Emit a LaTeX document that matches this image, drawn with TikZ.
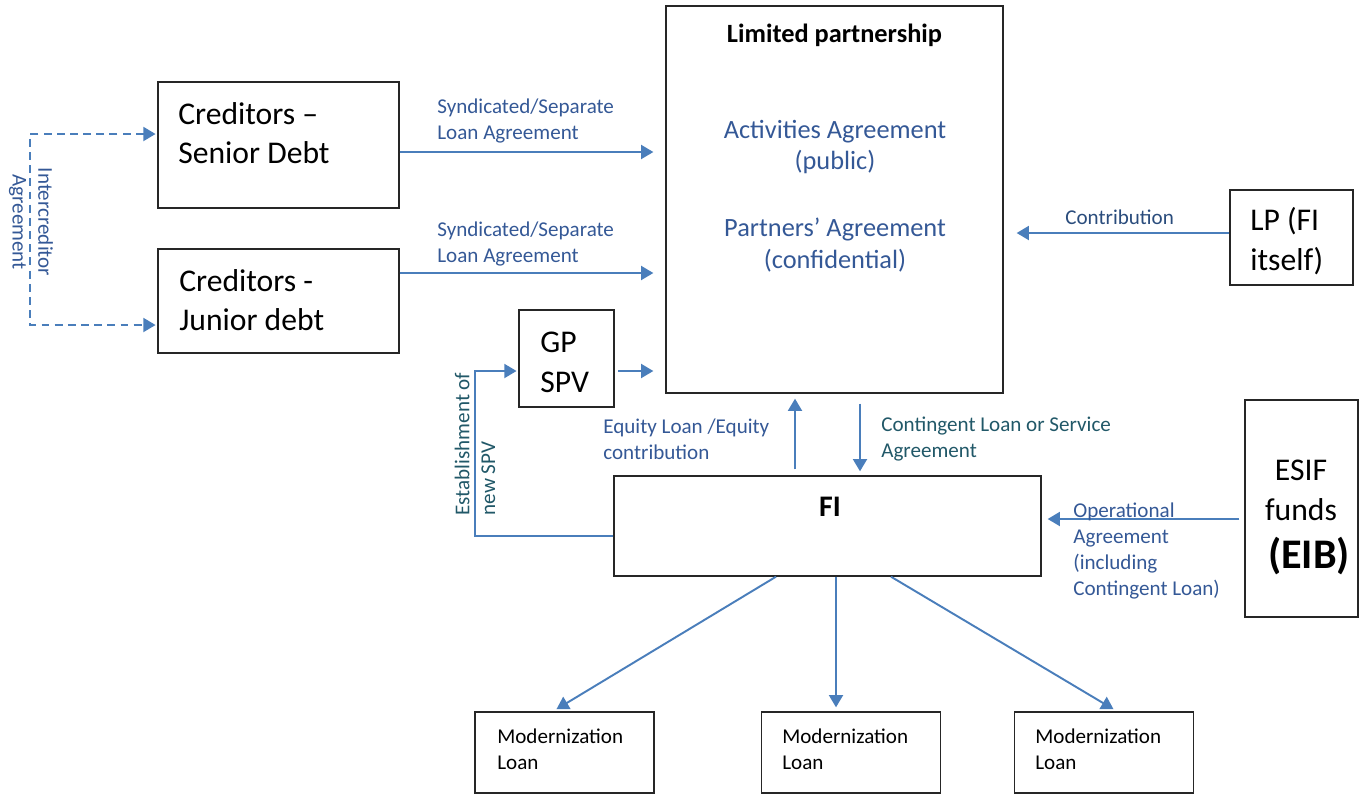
\documentclass[tikz,border=0pt]{standalone}
\usepackage{fontspec}
\setmainfont{Carlito}
\usepackage{tikz}
\usetikzlibrary{arrows.meta,calc,positioning}
\definecolor{flowblue}{RGB}{74,126,187}
\definecolor{lblblue}{RGB}{52,88,150}
\definecolor{lbldark}{RGB}{42,76,124}
\definecolor{lblteal}{RGB}{33,88,104}

\begin{document}
\begin{tikzpicture}[x=0.02cm,y=-0.02cm,
  box/.style={draw=black!85,line width=0.8pt,inner sep=0pt},
  flow/.style={draw=flowblue,line width=1.1pt,-{Triangle[length=7pt,width=8pt]}},
  dflow/.style={draw=flowblue,line width=1.1pt,dash pattern=on 4.5pt off 3pt,
    {Triangle[length=7pt,width=8pt]}-{Triangle[length=7pt,width=8pt]}},
  lbl/.style={inner sep=0pt,align=left,text=lblblue,font=\fontsize{12}{14.7}\selectfont},
  big/.style={inner sep=0pt,align=left,font=\fontsize{18}{22.6}\selectfont},
  mid/.style={inner sep=0pt,align=center,text=lblblue,font=\fontsize{15}{18.2}\selectfont}]
\useasboundingbox (0,0) rectangle (1359,795);

% boxes
\node[box,minimum width=4.82cm,minimum height=2.52cm] (senior) at (278.5,145) {};
\node[box,minimum width=4.82cm,minimum height=2.08cm] (junior) at (278.5,301) {};
\node[box,minimum width=1.9cm,minimum height=1.94cm] (gp) at (566.5,358.5) {};
\node[box,minimum width=6.74cm,minimum height=7.74cm] (lp) at (834.5,199.5) {};
\node[box,minimum width=2.46cm,minimum height=1.9cm] (lpfi) at (1291.5,237.5) {};
\node[box,minimum width=2.26cm,minimum height=4.34cm] (esif) at (1301.5,508.5) {};
\node[box,minimum width=8.54cm,minimum height=2cm] (fi) at (827.5,526) {};
\node[box,minimum width=3.58cm,minimum height=1.62cm] (ml1) at (564.5,752.5) {};
\node[box,minimum width=3.58cm,minimum height=1.62cm] (ml2) at (851,752.5) {};
\node[box,minimum width=3.58cm,minimum height=1.62cm] (ml3) at (1104,752.5) {};

% box texts
\node[big,anchor=west] (seniortxt) at (178,133) {Creditors --\\Senior Debt};
\node[big,anchor=west] (juniortxt) at (179,300) {Creditors -\\Junior debt};
\node[big,anchor=west] (gptxt) at (540,362) {GP\\SPV};
\node[big,anchor=west] (lpfitxt) at (1250,241) {LP (FI\\itself)};
\node[big,align=center] (esiftxt) at (1301,490) {ESIF\\funds};
\node[inner sep=0pt,font=\fontsize{24}{28}\bfseries] (eibtxt) at (1309,556) {(EIB)};
\node[inner sep=0pt,font=\fontsize{15}{18}\bfseries] (lptitle) at (834.5,35) {Limited partnership};
\node[mid] (activ) at (835,147) {Activities Agreement\\(public)};
\node[mid] (partn) at (835,245) {Partners’ Agreement\\(confidential)};
\node[inner sep=0pt,font=\fontsize{17}{20}\bfseries] (fitxt) at (830,507) {FI};
\node[lbl,text=black,anchor=west] (ml1txt) at (497,749) {Modernization\\Loan};
\node[lbl,text=black,anchor=west] (ml2txt) at (782,749) {Modernization\\Loan};
\node[lbl,text=black,anchor=west] (ml3txt) at (1035,749) {Modernization\\Loan};

% connectors
\draw[flow,shorten >=0.24cm] (senior.east |- 0,152) -- (lp.west |- 0,152);
\draw[flow,shorten >=0.24cm] (junior.east |- 0,273) -- (lp.west |- 0,273);
\draw[flow,shorten <=2pt,shorten >=0.24cm] (gp.east |- 0,371) -- (lp.west |- 0,371);
\draw[dflow,shorten <=1pt,shorten >=1pt] (senior.west |- 0,134) -- (30,134) -- (30,325) -- (junior.west |- 0,325);
\draw[flow,shorten >=1pt] (fi.west |- 0,536) -- (475,536) -- (475,371) -- (gp.west |- 0,371);
\draw[flow,shorten <=0.12cm,shorten >=0.1cm] (fi.north -| 795,0) -- (lp.south -| 795,0);
\draw[flow,shorten <=0.2cm,shorten >=0.08cm] (lp.south -| 860,0) -- (fi.north -| 860,0);
\draw[flow,shorten >=0.26cm] (lpfi.west |- 0,233) -- (lp.east |- 0,233);
\draw[flow,shorten <=0.1cm,shorten >=0.12cm] (esif.west |- 0,519) -- (fi.east |- 0,519);
\draw[flow,shorten >=0.08cm] (fi.south -| 776,0) -- (ml1.north -| 553,0);
\draw[flow,shorten >=0.08cm] (fi.south -| 836,0) -- (ml2.north -| 836,0);
\draw[flow,shorten >=0.08cm] (fi.south -| 891,0) -- (ml3.north -| 1117,0);

% connector labels
\node[lbl,anchor=west] (synd1) at (437,121) {Syndicated/Separate\\Loan Agreement};
\node[lbl,anchor=west] (synd2) at (437,244) {Syndicated/Separate\\Loan Agreement};
\node[lbl,align=center,rotate=-90] (icred) at (31,222) {Intercreditor\\Agreement};
\node[lbl,text=lblteal,rotate=90] (estab) at (475,444) {Establishment of\\new SPV};
\node[lbl,anchor=west] (equity) at (603,439) {Equity Loan /Equity\\contribution};
\node[lbl,text=lblteal,anchor=west] (conting) at (881,439) {Contingent Loan or Service\\Agreement};
\node[lbl,text=lbldark,anchor=west] (contrib) at (1065,217) {Contribution};
\node[lbl,anchor=west] (operat) at (1073,551) {Operational\\Agreement\\(including\\Contingent Loan)};
\end{tikzpicture}
\end{document}
